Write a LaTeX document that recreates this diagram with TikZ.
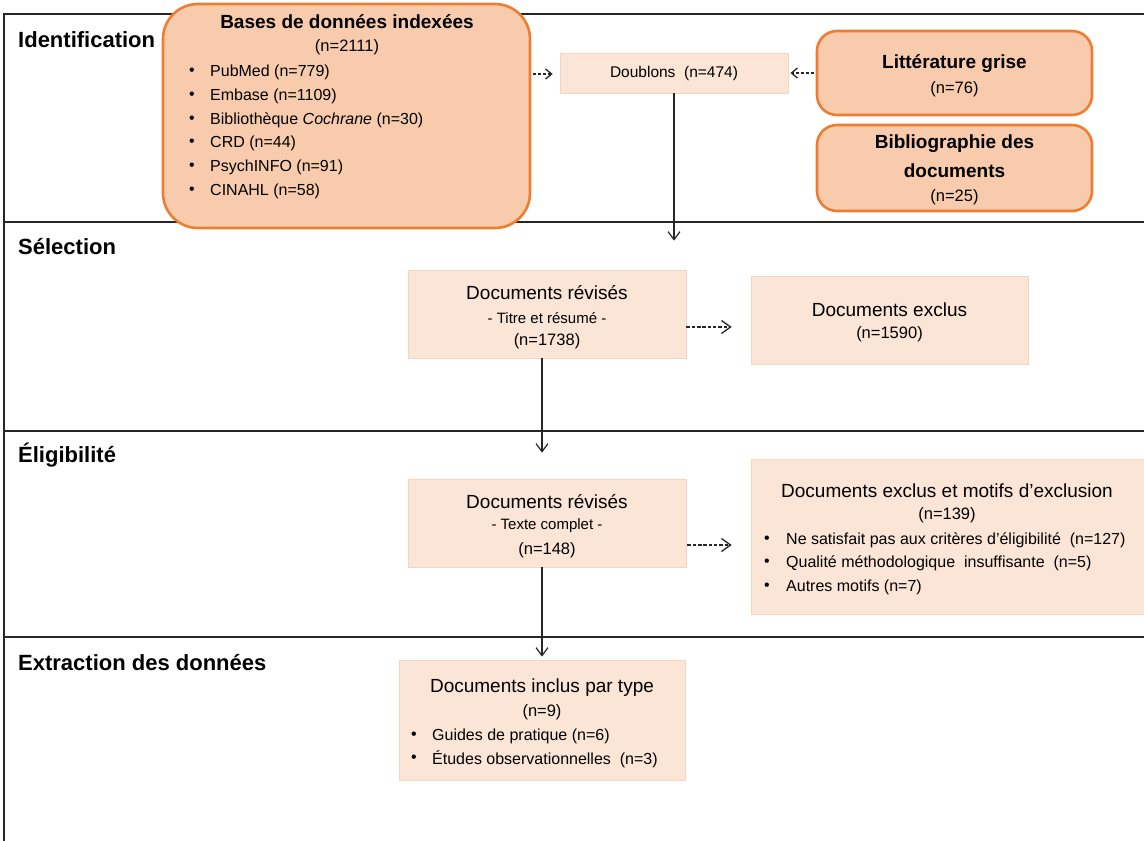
\documentclass[tikz,border=0pt]{standalone}
\usepackage{fontspec}
\setmainfont{Liberation Sans}
\usetikzlibrary{arrows.meta,calc}
\definecolor{orangeB}{HTML}{ED7D31}
\definecolor{orangeF}{HTML}{F8CBAD}
\definecolor{peachF}{HTML}{FBE5D6}
\definecolor{peachD}{HTML}{F5D5BE}
\definecolor{frameC}{HTML}{262626}
\newcommand{\fs}[1]{\fontsize{#1}{#1}\selectfont}
\begin{document}
\begin{tikzpicture}[x=1pt,y=-1pt,
  lane/.style={anchor=west,inner sep=0pt,font=\fs{22}\bfseries},
  obox/.style={draw=orangeB,line width=2.6pt,fill=orangeF,inner sep=0pt},
  pbox/.style={draw=peachD,line width=0.8pt,fill=peachF,inner sep=0pt},
  ttl/.style={inner sep=0pt,font=\fs{19}\bfseries},
  big/.style={inner sep=0pt,font=\fs{19}},
  txt/.style={inner sep=0pt,font=\fs{16.5}},
  sml/.style={inner sep=0pt,font=\fs{15}},
  itm/.style={inner sep=0pt,anchor=west,font=\fs{16}},
  bul/.style={inner sep=0pt,font=\fs{16}},
  dasharr/.style={draw=frameC,line width=1.3pt,dash pattern=on 3pt off 2pt,-{Straight Barb[length=6pt,width=10pt]}},
  dasharrb/.style={draw=frameC,line width=1.3pt,dash pattern=on 3.5pt off 1.8pt,-{Straight Barb[length=9pt,width=13pt]}},
  solarr/.style={draw=frameC,line width=1.2pt,-{Straight Barb[length=8pt,width=12pt]}}]
\useasboundingbox (0,0) rectangle (1144,841);
\fill[white] (0,0) rectangle (1144,841);
% frame and lanes
\draw[frameC,line width=1.8pt] (1146,14) -- (4,14) -- (4,843);
\draw[frameC,line width=1.8pt] (4,222) -- (1146,222);
\draw[frameC,line width=1.8pt] (4,431) -- (1146,431);
\draw[frameC,line width=1.8pt] (4,637) -- (1146,637);
\node[lane] (l1) at (18,40) {Identification};
\node[lane] (l2) at (18,247) {Sélection};
\node[lane] (l3) at (18,455) {Éligibilité};
\node[lane] (l4) at (18,663) {Extraction des données};
% Identification
\node[obox,rounded corners=35pt,minimum width=367pt,minimum height=224pt] (bdd) at (346.5,116) {};
\node[ttl] (bddt) at (347,22) {Bases de données indexées};
\node[txt] (bddn) at (347,47) {(n=2111)};
\foreach \y/\t [count=\i] in {72/PubMed (n=779),96/Embase (n=1109),120/Bibliothèque \textit{Cochrane} (n=30),143/CRD (n=44),167/PsychINFO (n=91),191/CINAHL (n=58)}{
  \node[bul] (bddb\i) at (192,\y) {•};
  \node[itm] (bddi\i) at (210,\y) {\t};
}
\node[pbox,minimum width=228pt,minimum height=40pt] (dbl) at (674,73) {};
\node[txt,font=\fs{15.5}] (dblt) at (674,73) {Doublons\ \ (n=474)};
\node[obox,rounded corners=20pt,minimum width=275pt,minimum height=84pt] (lit) at (954.5,73) {};
\node[ttl] (litt) at (954.5,64) {Littérature grise};
\node[txt] (litn) at (954.5,89) {(n=76)};
\node[obox,rounded corners=20pt,minimum width=275pt,minimum height=86pt] (bib) at (954.5,168) {};
\node[ttl] (bibt1) at (954.5,144) {Bibliographie des};
\node[ttl] (bibt2) at (954.5,171) {documents};
\node[txt] (bibn) at (954.5,197) {(n=25)};
% Sélection
\node[pbox,minimum width=278pt,minimum height=88pt] (rev1) at (547,314) {};
\node[big] (rev1a) at (547,293) {Documents révisés};
\node[sml] (rev1b) at (547,318) {- Titre et résumé -};
\node[txt] (rev1c) at (547,341) {(n=1738)};
\node[pbox,minimum width=277pt,minimum height=88pt] (exc1) at (889.5,320) {};
\node[big] (exc1a) at (889.5,310) {Documents exclus};
\node[txt] (exc1b) at (889.5,334) {(n=1590)};
% Éligibilité
\node[pbox,minimum width=278pt,minimum height=88pt] (rev2) at (547,523) {};
\node[big] (rev2a) at (547,502) {Documents révisés};
\node[sml] (rev2b) at (547,526) {- Texte complet -};
\node[txt] (rev2c) at (547,550) {(n=148)};
\node[pbox,minimum width=400pt,minimum height=155pt] (exc2) at (951,536.5) {};
\node[big] (exc2a) at (947,491) {Documents exclus et motifs d’exclusion};
\node[txt] (exc2b) at (947,515) {(n=139)};
\foreach \y/\t [count=\i] in {540/Ne satisfait pas aux critères d’éligibilité\ \ (n=127),563/Qualité\ méthodologique\ \ insuffisante\ \ (n=5),587/Autres motifs (n=7)}{
  \node[bul] (exb\i) at (767,\y) {•};
  \node[itm] (exi\i) at (786,\y) {\t};
}
% Extraction
\node[pbox,minimum width=286pt,minimum height=120pt] (inc) at (542,720) {};
\node[big] (inca) at (542,688) {Documents inclus par type};
\node[txt] (incb) at (542,712) {(n=9)};
\foreach \y/\t [count=\i] in {736/Guides de pratique (n=6),759/Études observationnelles\ \ (n=3)}{
  \node[bul] (inb\i) at (414,\y) {•};
  \node[itm] (ini\i) at (432,\y) {\t};
}
% connectors
\draw[dasharr,shorten <=2pt,shorten >=7pt] ([yshift=-1pt]bdd.east |- dbl.west) -- ([yshift=-1pt]dbl.west);
\draw[dasharr,shorten <=2pt,shorten >=2pt] (lit.west) -- (dbl.east);
\draw[solarr,shorten >=29pt] (dbl.south) -- (dbl.south |- rev1.north);
\draw[dasharrb,shorten <=0pt,shorten >=19pt] ([yshift=-13pt]rev1.east) -- ([yshift=-13pt]rev1.east -| exc1.west);
\draw[solarr,shorten >=26pt] ([xshift=-5pt]rev1.south) -- ([xshift=-5pt]rev1.south |- rev2.north);
\draw[dasharrb,shorten <=1pt,shorten >=19pt] ([yshift=-22pt]rev2.east) -- ([yshift=-22pt]rev2.east -| exc2.west);
\draw[solarr,shorten >=3pt] ([xshift=-5pt]rev2.south) -- ([xshift=-5pt]rev2.south |- inc.north);
\end{tikzpicture}
\end{document}
